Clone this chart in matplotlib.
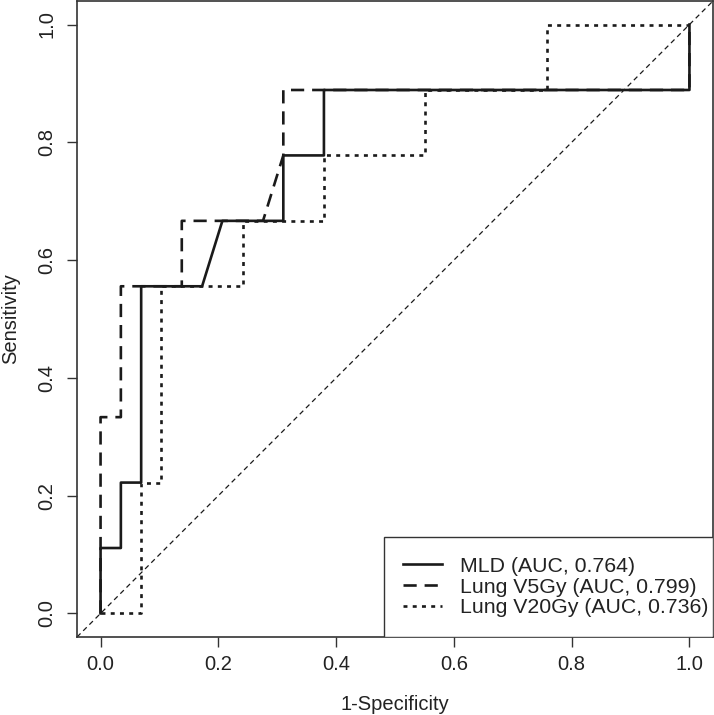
import matplotlib
matplotlib.use("Agg")
import matplotlib.pyplot as plt
from matplotlib.patches import Rectangle
import numpy as np

plt.rcParams['font.family'] = ['Liberation Sans', 'DejaVu Sans']

# ROC coordinates: 29 negatives, 9 positives
n_neg = 29
n_pos = 9

mld_fp = [0, 0, 1, 1, 2, 2, 5, 6, 9, 9, 11, 11, 29, 29]
mld_tp = [0, 1, 1, 2, 2, 5, 5, 6, 6, 7, 7, 8, 8, 9]

v5_fp = [0, 0, 1, 1, 4, 4, 8, 9, 9, 29, 29]
v5_tp = [0, 3, 3, 5, 5, 6, 6, 7, 8, 8, 9]

v20_fp = [0, 2, 2, 3, 3, 7, 7, 11, 11, 16, 16, 22, 22, 29]
v20_tp = [0, 0, 2, 2, 5, 5, 6, 6, 7, 7, 8, 8, 9, 9]

labels = ['MLD (AUC, 0.764)', 'Lung V5Gy (AUC, 0.799)', 'Lung V20Gy (AUC, 0.736)']

fig = plt.figure(figsize=(7.14, 7.15), dpi=100)
ax = fig.add_axes([77/714, 78/715, 636/714, 636/715])

col = '#1a1a1a'
ax.plot(np.array(mld_fp) / n_neg, np.array(mld_tp) / n_pos, color=col, lw=1.9,
        linestyle='-', label=labels[0])
ax.plot(np.array(v5_fp) / n_neg, np.array(v5_tp) / n_pos, color=col, lw=1.9,
        linestyle=(0, (5, 3)), label=labels[1])
ax.plot(np.array(v20_fp) / n_neg, np.array(v20_tp) / n_pos, color=col, lw=1.9,
        linestyle=(0, (1.5, 2)), label=labels[2])

# reference line
ax.axline((0, 0), (1, 1), color=col, lw=0.9, linestyle=(0, (4, 3)))

ax.set_xlim(-0.04, 1.04)
ax.set_ylim(-0.04, 1.04)
ticks = [0.0, 0.2, 0.4, 0.6, 0.8, 1.0]
ax.set_xticks(ticks)
ax.set_yticks(ticks)
ax.set_xticklabels([f'{t:.1f}' for t in ticks])
ax.set_yticklabels([f'{t:.1f}' for t in ticks], rotation=90, va='center')
ax.tick_params(axis='both', labelsize=14.5, length=7, width=1, color='#333333',
               labelcolor='#222222', pad=6)
ax.tick_params(axis='y', pad=8)
for s in ax.spines.values():
    s.set_color('#333333')
    s.set_linewidth(1.2)

ax.set_xlabel('1-Specificity', fontsize=14.5, color='#222222', labelpad=15)
ax.set_ylabel('Sensitivity', fontsize=14.5, color='#222222', labelpad=12)

# legend box drawn separately (R style, flush to bottom-right corner)
box = Rectangle((0.4827, 0), 0.5173, 0.157, transform=ax.transAxes,
                facecolor='white', edgecolor='#333333', lw=1.0, zorder=4)
ax.add_patch(box)

leg = ax.legend(loc='center left', bbox_to_anchor=(0.5126, 0.0786),
                frameon=False, borderaxespad=0, borderpad=0, fontsize=15.3,
                handlelength=1.84, handletextpad=0.85, labelspacing=0.08)
leg.set_zorder(5)
for t in leg.get_texts():
    t.set_color('#222222')

fig.savefig('out.png', dpi=100)
